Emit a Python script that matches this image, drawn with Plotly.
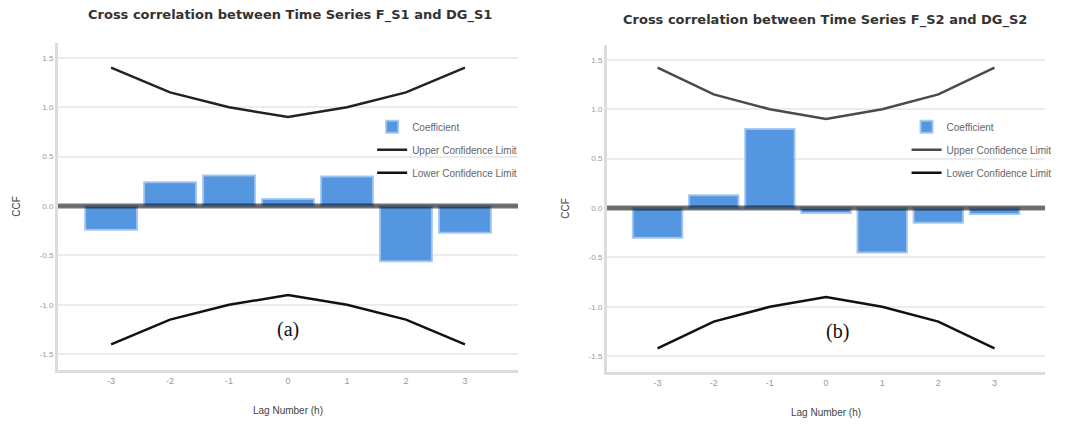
import plotly.graph_objects as go

lags = [-3, -2, -1, 0, 1, 2, 3]
tick_vals = [-1.5, -1.0, -0.5, 0.0, 0.5, 1.0, 1.5]
tick_text = ["-1.5", "-1.0", "-0.5", "0.0", "0.5", "1.0", "1.5"]

coef_a = [-0.24, 0.24, 0.31, 0.07, 0.30, -0.56, -0.27]
upper_a = [1.40, 1.15, 1.00, 0.90, 1.00, 1.15, 1.40]
lower_a = [-1.40, -1.15, -1.00, -0.90, -1.00, -1.15, -1.40]

coef_b = [-0.30, 0.13, 0.80, -0.05, -0.45, -0.15, -0.06]
upper_b = [1.42, 1.15, 1.00, 0.90, 1.00, 1.15, 1.42]
lower_b = [-1.42, -1.15, -1.00, -0.90, -1.00, -1.15, -1.42]

title_a = "Cross correlation between Time Series F_S1 and DG_S1"
title_b = "Cross correlation between Time Series F_S2 and DG_S2"

BAR = "#5596e0"
BAR_EDGE = "rgba(160,196,240,0.9)"

# the page body has an 8px margin, so the figure is sized to fit the window
W, H = 1071, 420

fig = go.Figure()

def add_panel(coef, up, lo, xa, ya, leg, line_col):
    fig.add_trace(go.Bar(x=lags, y=coef, xaxis=xa, yaxis=ya, name="Coefficient",
                         width=0.88, marker=dict(color=BAR, line=dict(color=BAR_EDGE, width=2)),
                         legend=leg, legendgroup=leg + "c"))
    fig.add_trace(go.Scatter(x=lags, y=up, xaxis=xa, yaxis=ya, mode="lines",
                             name="Upper Confidence Limit", line=dict(color=line_col, width=2.5),
                             legend=leg, legendgroup=leg + "u"))
    fig.add_trace(go.Scatter(x=lags, y=lo, xaxis=xa, yaxis=ya, mode="lines",
                             name="Lower Confidence Limit", line=dict(color="#111111", width=2.5),
                             legend=leg, legendgroup=leg + "l"))

add_panel(coef_a, upper_a, lower_a, "x", "y", "legend", "#222222")
add_panel(coef_b, upper_b, lower_b, "x2", "y2", "legend2", "#4a4a4a")

axis_common = dict(showline=True, linecolor="#dcdcdc", linewidth=3, zeroline=False, automargin=False)
xcommon = dict(axis_common, tickvals=lags, ticktext=[str(v) for v in lags], range=[-3.9, 3.9],
               showgrid=False, ticks="", tickfont=dict(family="Arial", size=9, color="#999999"),
               title=dict(text="Lag Number (h)", font=dict(family="Arial", size=10, color="#444444"),
                          standoff=23))
ycommon = dict(axis_common, tickvals=tick_vals, ticktext=tick_text, range=[-1.66, 1.65],
               showgrid=True, gridcolor="#ececec", gridwidth=2, ticks="",
               tickfont=dict(family="Arial", size=8, color="#999999"),
               title=dict(text="CCF", font=dict(family="Arial", size=10, color="#444444"), standoff=18))

legend_common = dict(xanchor="left", yanchor="top", bgcolor="rgba(0,0,0,0)",
                     font=dict(family="Arial", size=10, color="#666666"), itemwidth=30,
                     tracegroupgap=4)

fig.update_layout(
    width=W, height=H, margin=dict(l=0, r=0, t=0, b=0),
    paper_bgcolor="white", plot_bgcolor="white", barmode="overlay",
    xaxis=dict(xcommon, domain=[0.0467, 0.4762], anchor="y"),
    yaxis=dict(ycommon, domain=[0.138, 0.9167], anchor="x"),
    xaxis2=dict(xcommon, domain=[0.5593, 0.9683], anchor="y2"),
    yaxis2=dict(ycommon, domain=[0.1333, 0.9119], anchor="x2"),
    legend=dict(legend_common, x=0.340, y=0.752),
    legend2=dict(legend_common, x=0.839, y=0.752),
    showlegend=True,
)

# zero reference lines (semi-transparent, above bars)
for xr, yr in [("x domain", "y"), ("x2 domain", "y2")]:
    fig.add_shape(type="line", xref=xr, yref=yr, x0=0, x1=1, y0=0, y1=0,
                  line=dict(color="rgba(0,0,0,0.55)", width=5), layer="above")

fig.add_annotation(text="<b>" + title_a + "</b>", xref="paper", yref="paper", x=0.2633, y=1 - 7 / H,
                   xanchor="center", yanchor="middle", showarrow=False,
                   font=dict(family="DejaVu Sans", size=13, color="#333333"))
fig.add_annotation(text="<b>" + title_b + "</b>", xref="paper", yref="paper", x=0.763, y=1 - 12 / H,
                   xanchor="center", yanchor="middle", showarrow=False,
                   font=dict(family="DejaVu Sans", size=13, color="#333333"))
fig.add_annotation(text="(a)", xref="x", yref="y", x=0, y=-1.25, showarrow=False,
                   font=dict(family="Liberation Serif, Times New Roman, serif", size=20, color="#111111"))
fig.add_annotation(text="(b)", xref="x2", yref="y2", x=0.2, y=-1.25, showarrow=False,
                   font=dict(family="Liberation Serif, Times New Roman, serif", size=20, color="#111111"))

fig.write_html("out.html")
